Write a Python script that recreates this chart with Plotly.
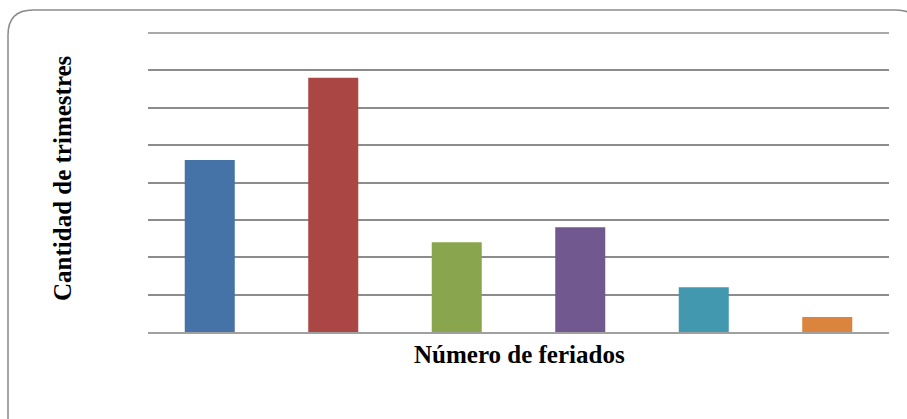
import plotly.graph_objects as go

categories = ["0", "1", "2", "3", "4", "5"]
values = [23, 34, 12, 14, 6, 2]
colors = ["#4572A7", "#AA4643", "#89A54E", "#71588F", "#4198AF", "#DB843D"]
y_title = "Cantidad de trimestres"
x_title = "Número de feriados"
y_max = 40

W, H = 907, 419
L, R, T, B = 148, 18, 33, 87
pw, ph = W - L - R, H - T - B

def px(x):
    return (x - L) / pw

def py(y):
    return (H - B - y) / ph

fig = go.Figure(go.Bar(x=categories, y=values, marker=dict(color=colors, line=dict(width=0)), width=0.405))

fig.update_layout(
    width=W, height=H,
    margin=dict(l=L, r=R, t=T, b=B),
    paper_bgcolor="white", plot_bgcolor="white",
    showlegend=False,
    bargap=0.6,
)
fig.update_xaxes(showticklabels=False, showgrid=False, zeroline=False,
                 showline=True, linecolor="#a0a0a0", linewidth=2, ticks="")
fig.update_yaxes(range=[0, y_max], tick0=0, dtick=5, showticklabels=False, showgrid=True,
                 gridcolor="#8c8c8c", gridwidth=1.5, zeroline=False, showline=False, ticks="")

# top gridline (at range edge, drawn unclipped)
fig.add_shape(type="line", xref="paper", yref="paper", x0=0, x1=1, y0=1, y1=1,
              line=dict(color="#8c8c8c", width=1.5), layer="below")

# rounded chart border (right edge lies just past the window)
lx, ty, rx, by, r = 8, 10, 921, 440, 25
path = (f"M {px(lx)} {py(by)} L {px(lx)} {py(ty + r)} "
        f"Q {px(lx)} {py(ty)} {px(lx + r)} {py(ty)} "
        f"L {px(rx - r)} {py(ty)} Q {px(rx)} {py(ty)} {px(rx)} {py(ty + r)} "
        f"L {px(rx)} {py(by)}")
fig.add_shape(type="path", path=path, xref="paper", yref="paper",
              line=dict(color="#8a8a8a", width=1.5), layer="below")

font = dict(family="Liberation Serif, Times New Roman, serif", size=25, color="black")
fig.add_annotation(text=f"<b>{y_title}</b>", x=px(62), y=py(178), xref="paper", yref="paper",
                   xanchor="center", yanchor="middle",
                   textangle=-90, showarrow=False, font=font)
fig.add_annotation(text=f"<b>{x_title}</b>", x=px(519), y=py(354), xref="paper", yref="paper",
                   xanchor="center", yanchor="middle",
                   showarrow=False, font=font)

fig.write_html("out.html", config={"displayModeBar": False},
               post_script="document.body.style.margin='0';document.body.style.overflow='hidden';")
